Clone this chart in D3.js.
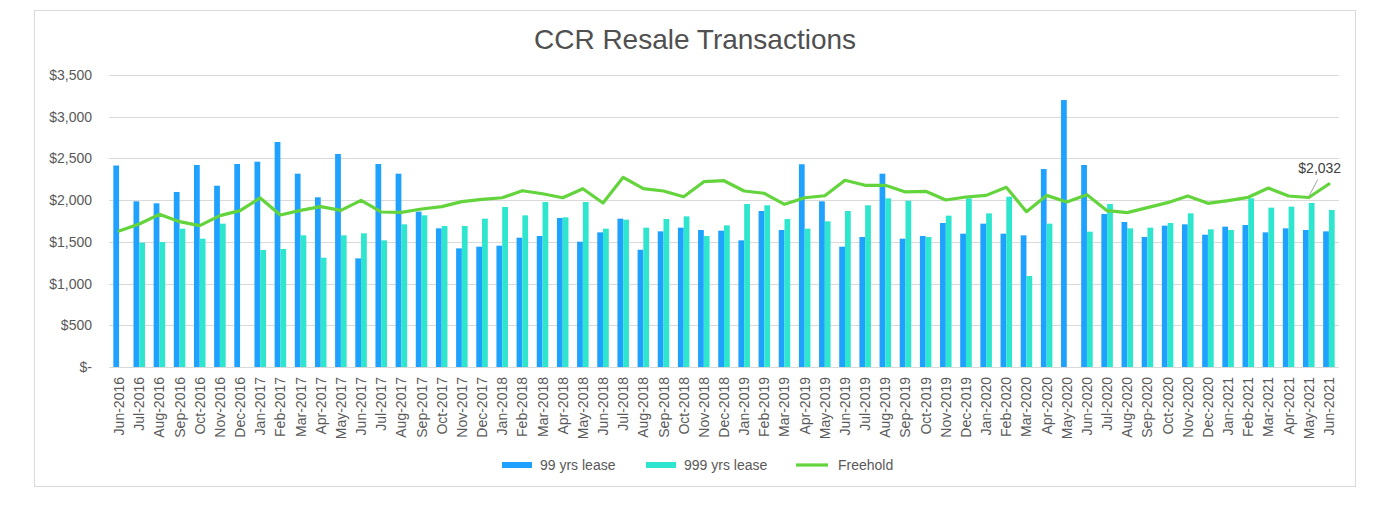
<!DOCTYPE html>
<html>
<head>
<meta charset="utf-8">
<script src="https://cdn.jsdelivr.net/npm/d3@7"></script>
<style>
  html, body { margin: 0; padding: 0; background: #fff; }
  svg { display: block; font-family: "Liberation Sans", Arial, Helvetica, sans-serif; }
</style>
</head>
<body>
<svg id="chart" width="1380" height="508"></svg>
<script>
const months = ["Jun-2016","Jul-2016","Aug-2016","Sep-2016","Oct-2016","Nov-2016","Dec-2016",
"Jan-2017","Feb-2017","Mar-2017","Apr-2017","May-2017","Jun-2017","Jul-2017","Aug-2017","Sep-2017","Oct-2017","Nov-2017","Dec-2017",
"Jan-2018","Feb-2018","Mar-2018","Apr-2018","May-2018","Jun-2018","Jul-2018","Aug-2018","Sep-2018","Oct-2018","Nov-2018","Dec-2018",
"Jan-2019","Feb-2019","Mar-2019","Apr-2019","May-2019","Jun-2019","Jul-2019","Aug-2019","Sep-2019","Oct-2019","Nov-2019","Dec-2019",
"Jan-2020","Feb-2020","Mar-2020","Apr-2020","May-2020","Jun-2020","Jul-2020","Aug-2020","Sep-2020","Oct-2020","Nov-2020","Dec-2020",
"Jan-2021","Feb-2021","Mar-2021","Apr-2021","May-2021","Jun-2021"];

const lease99 = [2415,1986,1962,2098,2421,2173,2433,
2461,2697,2317,2034,2553,1302,2433,2317,1862,1662,1422,1442,
1454,1550,1570,1786,1502,1614,1778,1406,1626,1670,1642,1634,
1518,1870,1642,2430,1986,1442,1558,2317,1538,1570,1726,1598,
1718,1598,1578,2373,3200,2421,1834,1738,1558,1694,1710,1586,
1682,1702,1614,1662,1642,1626];

const lease999 = [null,1490,1498,1658,1538,1718,null,
1402,1414,1578,1310,1578,1602,1518,1710,1818,1690,1690,1778,
1918,1818,1978,1794,1978,1658,1766,1670,1774,1806,1570,1698,
1954,1938,1774,1658,1746,1870,1938,2022,1993,1558,1814,2022,
1842,2041,1091,1718,null,1622,1954,1662,1670,1726,1842,1650,
1642,2022,1910,1922,1966,1882];

const freehold = [1630,1714,1830,1742,1694,1814,1874,
2026,1822,1878,1922,1878,1998,1858,1854,1894,1922,1982,2010,
2029,2113,2077,2029,2137,1966,2274,2137,2110,2041,2221,2233,
2110,2082,1950,2029,2053,2238,2178,2178,2098,2106,2002,2038,
2057,2154,1862,2057,1978,2065,1874,1850,1910,1970,2050,1962,
1994,2034,2145,2050,2032,2193];

const yTicks = [0,500,1000,1500,2000,2500,3000,3500];
const seriesNames = ["99 yrs lease","999 yrs lease","Freehold"];
const colors = ["#1FA1FF","#2EE5CE","#63D43C"];
const annotIndex = 59;

const svg = d3.select("#chart");
const pLeft = 109, pRight = 1339, pTop = 75, pBottom = 367;

// outer frame
svg.append("rect").attr("x",34.5).attr("y",10.5).attr("width",1321).attr("height",476)
  .attr("fill","#fff").attr("stroke","#d9d9d9").attr("stroke-width",1);

svg.append("text").attr("x",695).attr("y",48.5).attr("text-anchor","middle")
  .attr("font-size",28).attr("fill","#505050").text("CCR Resale Transactions");

const x = d3.scaleBand().domain(months).range([pLeft,pRight]).padding(0);
const y = d3.scaleLinear().domain([0,3500]).range([pBottom,pTop]);
const bw = x.bandwidth()/3.5;
const cx = m => x(m) + x.bandwidth()/2;

// gridlines
svg.append("g").selectAll("line").data(yTicks).join("line")
  .attr("x1",pLeft).attr("x2",pRight)
  .attr("y1",d=>Math.round(y(d))+0.5).attr("y2",d=>Math.round(y(d))+0.5)
  .attr("stroke","#d9d9d9").attr("stroke-width",1);

// y axis labels
const fmt = d => d===0 ? "$-" : "$" + d3.format(",")(d);
svg.append("g").selectAll("text").data(yTicks).join("text")
  .attr("x",92).attr("y",d=>y(d)+5).attr("text-anchor","end")
  .attr("font-size",14).attr("fill","#595959").text(fmt);

// bars
const d99 = months.map((m,i)=>({m, v: lease99[i]})).filter(d=>d.v!==null);
const d999 = months.map((m,i)=>({m, v: lease999[i]})).filter(d=>d.v!==null);
const gBars = svg.append("g");
gBars.selectAll("rect.b99").data(d99).join("rect").attr("class","b99")
  .attr("x",d=>cx(d.m)-bw).attr("width",bw)
  .attr("y",d=>y(d.v)).attr("height",d=>y(0)-y(d.v))
  .attr("fill",colors[0]);
gBars.selectAll("rect.b999").data(d999).join("rect").attr("class","b999")
  .attr("x",d=>cx(d.m)).attr("width",bw)
  .attr("y",d=>y(d.v)).attr("height",d=>y(0)-y(d.v))
  .attr("fill",colors[1]);

// line
const line = d3.line().x((d,i)=>cx(months[i])).y(d=>y(d));
svg.append("path").datum(freehold).attr("d",line)
  .attr("fill","none").attr("stroke",colors[2]).attr("stroke-width",3.2)
  .attr("stroke-linejoin","round").attr("stroke-linecap","round");

// x labels
svg.append("g").selectAll("text").data(months).join("text")
  .attr("transform",d=>`translate(${cx(d)+5},377) rotate(-90)`)
  .attr("text-anchor","end").attr("font-size",14).attr("fill","#595959").text(d=>d);

// annotation
const ax = cx(months[annotIndex]), ay = y(freehold[annotIndex]);
svg.append("line").attr("x1",ax).attr("y1",ay-1).attr("x2",ax+9).attr("y2",ay-18)
  .attr("stroke","#a6a6a6").attr("stroke-width",1);
svg.append("text").attr("x",ax+11).attr("y",ay-24).attr("text-anchor","middle")
  .attr("font-size",14).attr("fill","#404040").text("$" + d3.format(",")(freehold[annotIndex]));

// legend
const lg = svg.append("g");
const lx = [502,646,796];
seriesNames.forEach((n,i)=>{
  if (i<2) lg.append("rect").attr("x",lx[i]).attr("y",462).attr("width",30).attr("height",6).attr("fill",colors[i]);
  else lg.append("line").attr("x1",lx[i]).attr("x2",lx[i]+32).attr("y1",465).attr("y2",465)
    .attr("stroke",colors[i]).attr("stroke-width",3.2);
  lg.append("text").attr("x",lx[i]+(i<2?38:42)).attr("y",470).attr("font-size",14)
    .attr("fill","#595959").text(n);
});
</script>
</body>
</html>
